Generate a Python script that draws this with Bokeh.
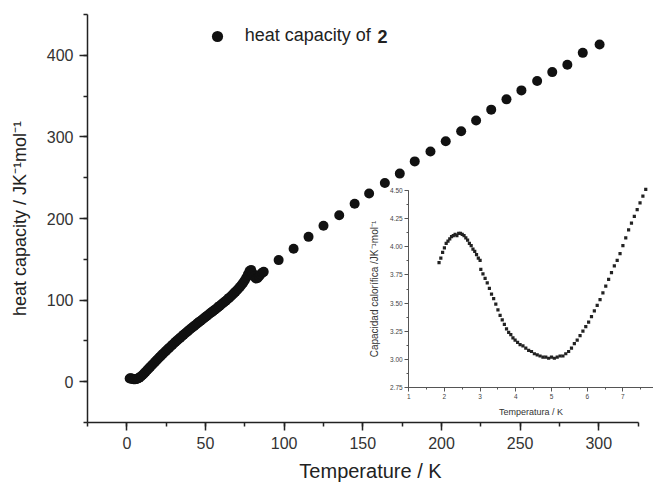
from bokeh.plotting import figure
from bokeh.models import (Range1d, LinearAxis, SingleIntervalTicker, Legend, LegendItem,
                          Label, PrintfTickFormatter)
from bokeh.embed import file_html
from bokeh.resources import INLINE

# ---------------- data ----------------
main_T = [1.8, 2.4, 3.0, 3.6, 4.2, 4.8, 5.4, 6.0, 6.6, 7.2,
          8, 9, 10, 11, 12, 13, 14, 15, 16, 17, 18, 19, 20, 21, 22, 23, 24, 25, 26, 27,
          28, 29, 30, 31, 32, 33, 34, 35, 36, 37, 38, 39, 40, 41, 42, 43, 44, 45, 46, 47,
          48, 49, 50, 51, 52, 53, 54, 55, 56, 57, 58, 59, 60, 61, 62, 63, 64, 65, 66, 67,
          68, 69, 70, 71, 72, 73, 74, 75, 76, 77, 78, 79, 80, 81, 82, 83, 84, 85, 86, 87,
          96.5, 106, 115.5, 125, 135, 144.8, 154, 164, 173.5, 183, 193, 202.7, 212.5,
          222, 231.6, 241.3, 250.8, 260.8, 270.4, 280, 289.8, 300.5]
main_C = [3.9, 4.1, 3.8, 3.3, 3.1, 3.0, 3.1, 3.3, 3.7, 4.2,
          5.0, 6.5, 8.2, 10.2, 12.2, 14.3, 16.3, 18.4, 20.4, 22.4, 24.4, 26.4, 28.4, 30.4,
          32.3, 34.2, 36.1, 38.0, 39.9, 41.7, 43.5, 45.3, 47.1, 48.9, 50.6, 52.3, 54.0,
          55.7, 57.4, 59.0, 60.7, 62.3, 63.9, 65.5, 67.1, 68.7, 70.2, 71.8, 73.3, 74.8,
          76.3, 77.8, 79.3, 80.8, 82.3, 83.8, 85.3, 86.8, 88.3, 89.8, 91.4, 92.9, 94.5,
          96.1, 97.7, 99.3, 101.0, 102.7, 104.5, 106.3, 108.2, 110.1, 112.1, 114.2, 116.4,
          118.8, 121.4, 124.3, 127.6, 131.5, 135.5, 137.0, 133.0, 129.0, 126.5, 126.8,
          129.0, 131.5, 133.5, 134.6,
          149, 163, 177.5, 191, 204, 218, 230.6, 243.6, 255, 270, 282, 294.6, 306.9,
          320, 333.4, 346, 357, 368.4, 379.4, 388.5, 403, 413.3]

inset_T = [1.85, 1.90, 1.95, 2.00, 2.05, 2.10, 2.15, 2.20, 2.25, 2.30, 2.35, 2.40, 2.45,
           2.50, 2.55, 2.60, 2.65, 2.70, 2.75, 2.80, 2.85, 2.90, 2.95, 3.00,
           3.02, 3.08, 3.14, 3.20, 3.26, 3.32, 3.38, 3.44, 3.50, 3.56, 3.62, 3.68, 3.74,
           3.80, 3.86, 3.92, 3.98, 4.05, 4.12, 4.20, 4.28, 4.36, 4.44, 4.52, 4.60, 4.68,
           4.76, 4.84, 4.92, 5.00, 5.08, 5.16, 5.24, 5.32, 5.40, 5.48, 5.56, 5.64, 5.72,
           5.80, 5.88, 5.96, 6.04, 6.12, 6.20, 6.28, 6.36, 6.44, 6.52, 6.60, 6.68, 6.76,
           6.84, 6.92, 7.00, 7.08, 7.16, 7.24, 7.32, 7.40, 7.48, 7.56, 7.64]
inset_C = [3.86, 3.90, 3.95, 3.99, 4.03, 4.05, 4.07, 4.09, 4.10, 4.11, 4.10, 4.12, 4.12,
           4.11, 4.10, 4.08, 4.06, 4.03, 4.01, 3.98, 3.96, 3.93, 3.90, 3.88,
           3.80, 3.76, 3.72, 3.68, 3.63, 3.58, 3.54, 3.49, 3.44, 3.39, 3.35, 3.31, 3.27,
           3.24, 3.22, 3.19, 3.17, 3.15, 3.13, 3.12, 3.10, 3.08, 3.07, 3.05, 3.04, 3.03,
           3.02, 3.02, 3.01, 3.02, 3.01, 3.02, 3.03, 3.03, 3.05, 3.07, 3.10, 3.14, 3.17,
           3.21, 3.25, 3.29, 3.33, 3.38, 3.43, 3.48, 3.53, 3.59, 3.65, 3.71, 3.77, 3.83,
           3.88, 3.94, 4.01, 4.08, 4.15, 4.21, 4.27, 4.33, 4.39, 4.45, 4.51]

legend_text = "heat capacity of"
legend_bold = "2"
x_title = "Temperature / K"
y_title = "heat capacity / JK\u207b\u00b9mol\u207b\u00b9"
inset_x_title = "Temperatura / K"
inset_y_title = "Capacidad calor\u00edfica /JK\u207b\u00b9mol\u207b\u00b9"

# ---------------- geometry ----------------
W, H = 653, 484
FL, FR, FT, FB = 87, 653, 14, 422          # frame box in figure pixels
x_start, x_bound_end, kx = -25, 325, 1.5733  # main x scale (px per K)
x_end = x_start + (FR - FL) / kx

# inset mapping: T=1 at px 408.2, 35.7 px/K ; C=2.75 at py 387, 112.57 px/unit
ins_x0_px, ins_kx = 408.2, 35.7
ins_y0_px, ins_ky = 387.0, 112.57
ix0 = 1 - (ins_x0_px - FL) / ins_kx
ix1 = 1 + (FR - ins_x0_px) / ins_kx
iy0 = 2.75 - (FB - ins_y0_px) / ins_ky
iy1 = 2.75 + (ins_y0_px - FT) / ins_ky

FONT = "Liberation Sans"

p = figure(width=W, height=H, output_backend="svg", toolbar_location=None,
           x_range=Range1d(x_start, x_end), y_range=Range1d(-50, 450),
           min_border_left=FL, min_border_right=0, min_border_top=FT,
           min_border_bottom=H - FB, outline_line_color=None)
p.grid.visible = False
p.extra_x_ranges = {"ix": Range1d(ix0, ix1)}
p.extra_y_ranges = {"iy": Range1d(iy0, iy1)}

# main axes
xa = p.xaxis[0]
xa.ticker = SingleIntervalTicker(interval=50, num_minor_ticks=2)
xa.bounds = (x_start, x_bound_end)
ya = p.yaxis[0]
ya.ticker = SingleIntervalTicker(interval=100, num_minor_ticks=2)
for ax in (xa, ya):
    ax.axis_line_color = "#222"
    ax.axis_line_width = 1.5
    ax.major_tick_line_color = "#222"
    ax.minor_tick_line_color = "#222"
    ax.major_tick_line_width = 1.5
    ax.minor_tick_line_width = 1.5
    ax.major_tick_out = 8
    ax.major_tick_in = 0
    ax.minor_tick_out = 4
    ax.minor_tick_in = 0
    ax.major_label_text_font = FONT
    ax.major_label_text_font_size = "16px"
    ax.major_label_text_color = "#333"
    ax.axis_label_text_font = FONT
    ax.axis_label_text_font_style = "normal"
    ax.axis_label_text_color = "#222"
xa.axis_label = x_title
ya.axis_label = y_title
xa.axis_label_text_font_size = "20px"
ya.axis_label_text_font_size = "18px"
xa.major_label_standoff = 6
ya.major_label_standoff = 6
xa.axis_label_standoff = 8
ya.axis_label_standoff = 14

# main data
r = p.scatter(main_T, main_C, marker="circle", size=10, color="#111", line_color=None)

legend = Legend(items=[LegendItem(label=legend_text, renderers=[r])],
                location=(115.7, 372.3), padding=0, margin=0, spacing=0,
                glyph_width=28, glyph_height=28, label_standoff=14,
                label_text_font=FONT, label_text_font_size="18px",
                label_text_color="#222", border_line_alpha=0,
                background_fill_alpha=0)
p.add_layout(legend, "center")
p.add_layout(Label(x=290, y=386.3, x_units="screen", y_units="screen",
                   text=legend_bold, text_font=FONT, text_font_size="18px",
                   text_font_style="bold", text_color="#222",
                   text_baseline="middle"))

# inset
p.scatter(inset_T, inset_C, x_range_name="ix", y_range_name="iy",
          marker="square", size=3.2, color="#222", line_color=None)

ixa = LinearAxis(x_range_name="ix", y_range_name="iy", fixed_location=2.75,
                 bounds=(1, ix1),
                 ticker=SingleIntervalTicker(interval=1, num_minor_ticks=2))
iya = LinearAxis(x_range_name="ix", y_range_name="iy", fixed_location=1,
                 bounds=(2.75, 4.5),
                 ticker=SingleIntervalTicker(interval=0.25, num_minor_ticks=2),
                 formatter=PrintfTickFormatter(format="%.2f"))
for ax in (ixa, iya):
    ax.axis_line_color = "#555"
    ax.axis_line_width = 1
    ax.major_tick_line_color = "#555"
    ax.minor_tick_line_color = "#555"
    ax.major_tick_out = 4
    ax.major_tick_in = 0
    ax.minor_tick_out = 2
    ax.minor_tick_in = 0
    ax.major_label_text_font = FONT
    ax.major_label_text_font_size = "6.5px"
    ax.major_label_text_color = "#444"
    ax.major_label_standoff = 2
    ax.axis_label_text_font = FONT
    ax.axis_label_text_font_style = "normal"
    ax.axis_label_text_color = "#333"
ixa.axis_label = inset_x_title
iya.axis_label = inset_y_title
ixa.axis_label_text_font_size = "9px"
iya.axis_label_text_font_size = "10px"
ixa.axis_label_standoff = 5
iya.axis_label_standoff = 7
p.add_layout(ixa, "below")
p.add_layout(iya, "left")

open("out.html", "w").write(file_html(p, INLINE))
